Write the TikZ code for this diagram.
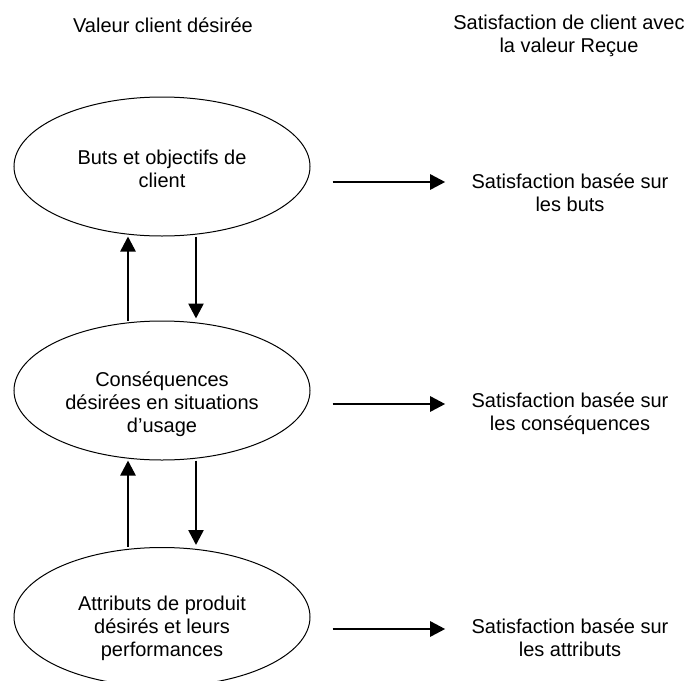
\documentclass[tikz,border=0pt]{standalone}
\usepackage{fontspec}
\setmainfont{Liberation Sans}
\usetikzlibrary{arrows.meta,shapes.geometric}

\begin{document}
\begin{tikzpicture}[x=0.5pt,y=-0.5pt,
       bulle/.style={ellipse,draw,line width=0.5pt,minimum width=148pt,minimum height=69.5pt,inner sep=0pt},
       texte/.style={align=center,inner sep=0pt,font=\fontsize{10}{11.5}\selectfont},
       fleche/.style={-{Triangle[length=7.5pt,width=7.5pt]},line width=1.3pt}]
       \useasboundingbox (0,0) rectangle (690,680);
       \clip (0,0) rectangle (690,680);

       % titres des colonnes
       \node[texte] (titre1) at (163,25) {Valeur client désirée};
       \node[texte] (titre2) at (569,36) {Satisfaction de client avec\\la valeur Reçue};

       % hierarchie de la valeur
       \node[bulle] (buts) at (162,166.5) {};
       \node[bulle] (conseq) at (162,390.5) {};
       \node[bulle] (attrib) at (162,617) {};
       \node[texte] (txtbuts) at (162,169) {Buts et objectifs de\\client};
       \node[texte] (txtconseq) at (162,404) {Conséquences\\désirées en situations\\d’usage};
       \node[texte] (txtattrib) at (162,628) {Attributs de produit\\désirés et leurs\\performances};

       % satisfaction
       \node[texte] (satbuts) at (570,193) {Satisfaction basée sur\\les buts};
       \node[texte] (satconseq) at (570,414) {Satisfaction basée sur\\les conséquences};
       \node[texte] (satattrib) at (570,638) {Satisfaction basée sur\\les attributs};

       \draw[fleche] ([xshift=-17pt]conseq.north) -- ([xshift=-17pt]buts.south);
       \draw[fleche,shorten >=1pt] ([xshift=17pt]buts.south) -- ([xshift=17pt]conseq.north);
       \draw[fleche] ([xshift=-17pt]attrib.north) -- ([xshift=-17pt]conseq.south);
       \draw[fleche,shorten >=1pt] ([xshift=17pt]conseq.south) -- ([xshift=17pt]attrib.north);

       \draw[fleche] ([xshift=11pt,yshift=-7.75pt]buts.east) -- ([xshift=-13pt,yshift=-7.75pt]buts.east -| satbuts.west);
       \draw[fleche] ([xshift=11pt,yshift=-6.75pt]conseq.east) -- ([xshift=-13pt,yshift=-6.75pt]conseq.east -| satconseq.west);
       \draw[fleche] ([xshift=11pt,yshift=-6pt]attrib.east) -- ([xshift=-13pt,yshift=-6pt]attrib.east -| satattrib.west);
     \end{tikzpicture}
\end{document}
